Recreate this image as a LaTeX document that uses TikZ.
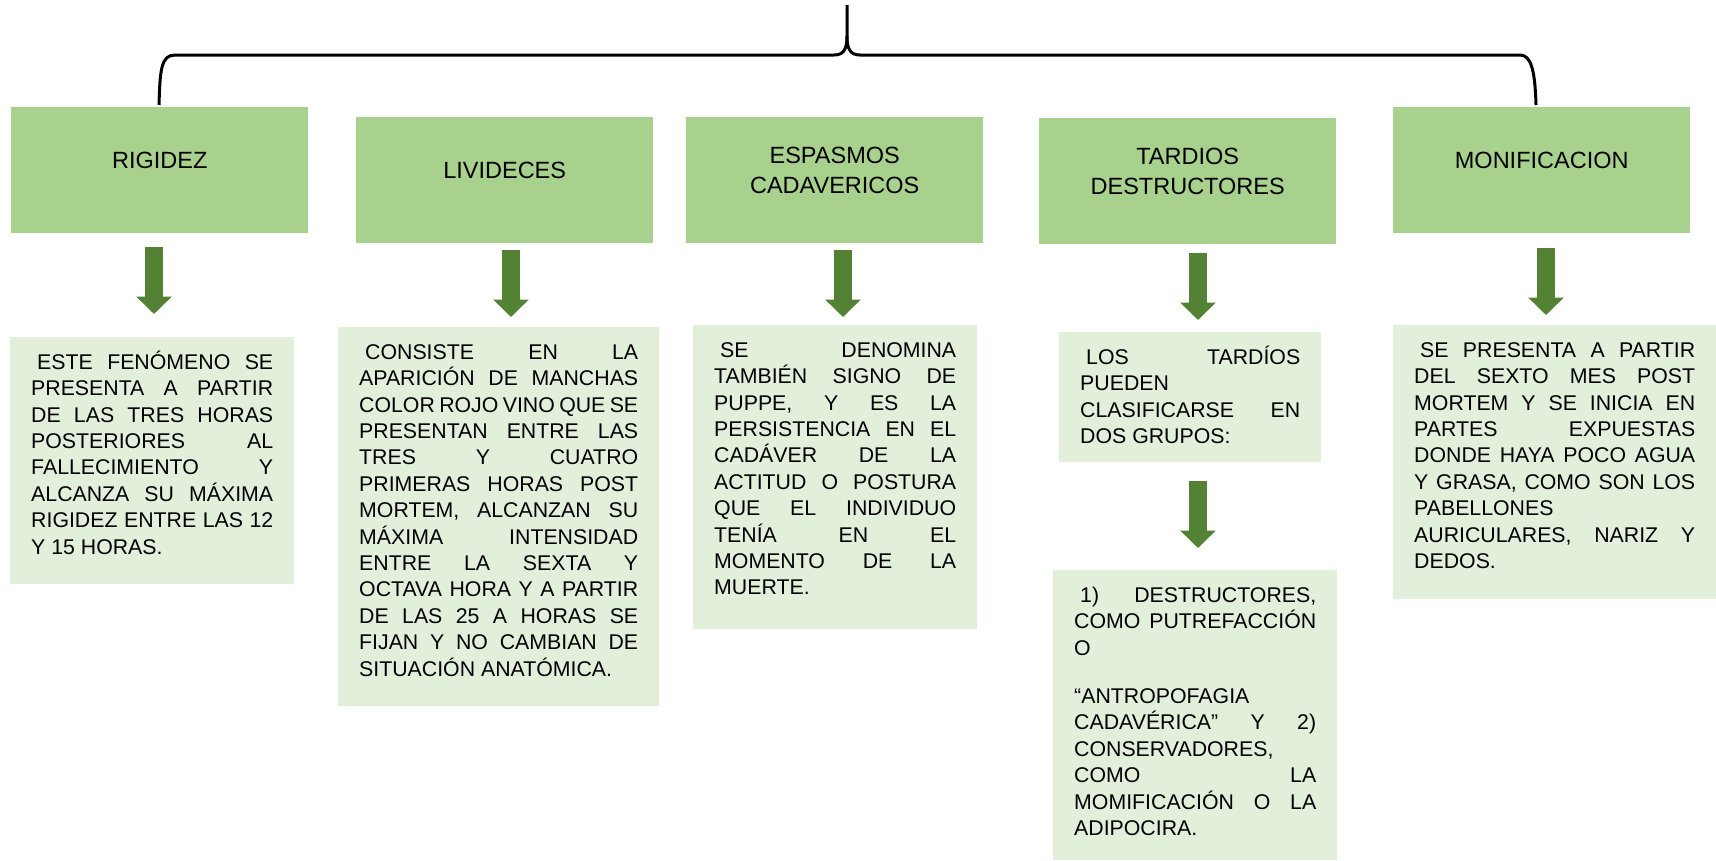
\documentclass[tikz,border=0pt]{standalone}
\usepackage{fontspec}
\setmainfont{Liberation Sans}
\usetikzlibrary{arrows.meta}
\definecolor{headgreen}{HTML}{A9D18E}
\definecolor{notegreen}{HTML}{E2EFDA}
\definecolor{arrowgreen}{HTML}{548235}
\newcommand\headtext[1]{\parbox[c][126pt][c]{297pt}{\centering #1\par\vspace{20pt}}}
\newcommand\notetext[3]{\parbox[c][#2][t]{#1}{\frenchspacing\tolerance=10000\hbadness=10000\hyphenpenalty=10000
  \rule{0pt}{21pt}\hspace*{6pt}#3}}
\tikzset{
  head/.style={fill=headgreen,inner sep=0pt,anchor=north west,font=\fontsize{23.5}{29.5}\selectfont},
  note/.style={fill=notegreen,inner xsep=21pt,inner ysep=11pt,anchor=north west,font=\fontsize{21.3}{26.4}\selectfont},
  downarrow/.style={draw=arrowgreen,line width=17.5pt,-{Triangle[width=34.5pt,length=17.4pt]}},
  brace/.style={draw=black,line width=3pt}
}
\begin{document}
\begin{tikzpicture}[x=1pt,y=-1pt]
\useasboundingbox (0,0) rectangle (1716,860);
% brace over the five groups
\draw[brace] (159,105) .. controls (160,70) and (161,55) .. (175,55) -- (834,55)
  .. controls (843,55) and (847,50) .. (847,36) -- (847,5);
\draw[brace] (847,36) .. controls (847,50) and (851,55) .. (860,55) -- (1520,55)
  .. controls (1531,55) and (1535,70) .. (1536,105);

% headings
\node[head] (rig) at (11,107) {\headtext{RIGIDEZ}};
\node[head] (liv) at (356,117) {\headtext{LIVIDECES}};
\node[head] (esp) at (686,117) {\headtext{ESPASMOS\\CADAVERICOS}};
\node[head] (tar) at (1039,118) {\headtext{TARDIOS\\DESTRUCTORES}};
\node[head] (mon) at (1393,107) {\headtext{MONIFICACION}};

% arrows
\foreach \i/\x/\y in {1/154/247,2/511/250,3/843/250,4/1198/253,5/1546/248,6/1198/481}{
  \coordinate (top\i) at (\x,\y);
  \draw[downarrow] (top\i) -- ++(0,67);
}

% descriptions
\node[note] (rignote) at (10,337) {\notetext{242pt}{225pt}{ESTE FENÓMENO SE\linebreak
  PRESENTA A PARTIR\linebreak DE LAS TRES HORAS\linebreak POSTERIORES AL\linebreak
  FALLECIMIENTO Y\linebreak ALCANZA SU MÁXIMA\linebreak RIGIDEZ ENTRE LAS 12\linebreak
  Y 15 HORAS.}};
\node[note] (livnote) at (338,327) {\notetext{279pt}{357pt}{CONSISTE EN LA\linebreak
  APARICIÓN DE MANCHAS\linebreak COLOR ROJO VINO QUE SE\linebreak PRESENTAN ENTRE LAS\linebreak
  TRES Y CUATRO\linebreak PRIMERAS HORAS POST\linebreak MORTEM, ALCANZAN SU\linebreak
  MÁXIMA INTENSIDAD\linebreak ENTRE LA SEXTA Y\linebreak OCTAVA HORA Y A PARTIR\linebreak
  DE LAS 25 A HORAS SE\linebreak FIJAN Y NO CAMBIAN DE\linebreak SITUACIÓN ANATÓMICA.}};
\node[note] (espnote) at (693,325) {\notetext{242pt}{282pt}{SE DENOMINA\linebreak
  TAMBIÉN SIGNO DE\linebreak PUPPE, Y ES LA\linebreak PERSISTENCIA EN EL\linebreak
  CADÁVER DE LA\linebreak ACTITUD O POSTURA\linebreak QUE EL INDIVIDUO\linebreak
  TENÍA EN EL\linebreak MOMENTO DE LA\linebreak MUERTE.}};
\node[note] (tarnote) at (1059,332) {\notetext{220pt}{108pt}{LOS TARDÍOS\linebreak
  PUEDEN\linebreak CLASIFICARSE EN\linebreak DOS GRUPOS:}};
\node[note] (grpnote) at (1053,570) {\notetext{242pt}{268pt}{1) DESTRUCTORES,\linebreak
  COMO PUTREFACCIÓN\linebreak O\par\vspace{22pt}“ANTROPOFAGIA\linebreak
  CADAVÉRICA” Y 2)\linebreak CONSERVADORES,\linebreak COMO LA\linebreak
  MOMIFICACIÓN O LA\linebreak ADIPOCIRA.}};
\node[note] (monnote) at (1393,325) {\notetext{281pt}{252pt}{SE PRESENTA A PARTIR\linebreak
  DEL SEXTO MES POST\linebreak MORTEM Y SE INICIA EN\linebreak PARTES EXPUESTAS\linebreak
  DONDE HAYA POCO AGUA\linebreak Y GRASA, COMO SON LOS\linebreak PABELLONES\linebreak
  AURICULARES, NARIZ Y\linebreak DEDOS.}};
\end{tikzpicture}
\end{document}
